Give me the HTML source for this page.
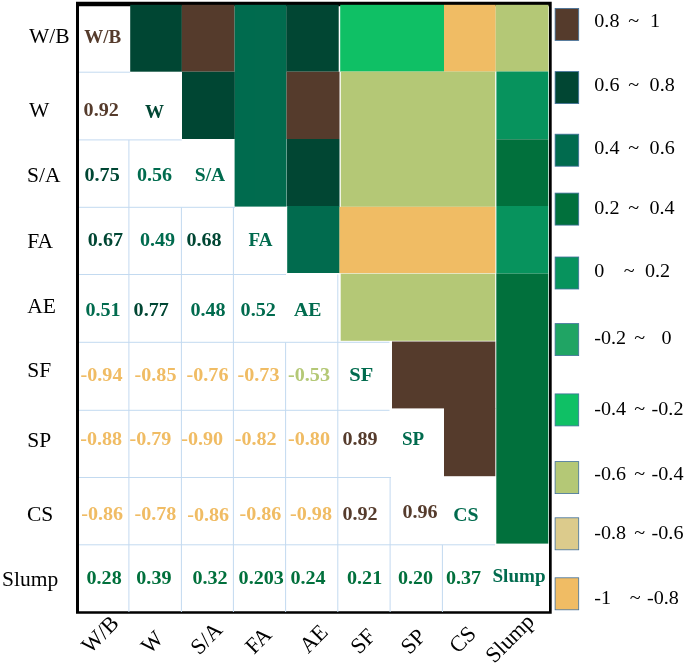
<!DOCTYPE html>
<html><head><meta charset="utf-8"><title>Correlation heatmap</title>
<style>
html,body{margin:0;padding:0;background:#fff;}
body{width:685px;height:665px;position:relative;overflow:hidden;font-family:"Liberation Serif",serif;}
svg text{font-family:"Liberation Serif",serif;}
svg text.r{font-weight:400;fill:#000;}
svg text.b{font-weight:700;}
</style></head><body>
<svg width="685" height="665" viewBox="0 0 685 665" style="position:absolute;left:0;top:0;will-change:transform;opacity:0.999">
<rect x="0" y="0" width="685" height="665" fill="#fff"/>
<path d="M76 1.8 H551.7 V613.8 H76 Z M79 6.2 V611.2 H549.0 V6.2 Z" fill="#000" fill-rule="evenodd"/>
<rect x="130.20" y="4.80" width="51.70" height="66.90" fill="#004633"/>
<rect x="181.80" y="4.80" width="52.80" height="66.90" fill="#553B2C"/>
<rect x="234.60" y="4.80" width="51.90" height="201.80" fill="#006B4E"/>
<rect x="286.30" y="4.80" width="52.40" height="66.90" fill="#004633"/>
<rect x="340.20" y="4.80" width="103.80" height="66.80" fill="#0FC065"/>
<rect x="444.00" y="4.80" width="51.70" height="66.80" fill="#F0BC64"/>
<rect x="495.70" y="4.80" width="52.80" height="66.70" fill="#B4C876"/>
<rect x="182.00" y="71.70" width="52.80" height="67.30" fill="#004633"/>
<rect x="286.50" y="71.70" width="53.00" height="67.30" fill="#553B2C"/>
<rect x="340.80" y="71.50" width="154.40" height="135.30" fill="#B4C876"/>
<rect x="496.40" y="71.50" width="51.90" height="67.80" fill="#07935D"/>
<rect x="286.80" y="139.00" width="52.70" height="67.00" fill="#004633"/>
<rect x="496.40" y="139.30" width="51.90" height="66.70" fill="#00703C"/>
<rect x="287.20" y="206.00" width="52.40" height="67.00" fill="#006B4E"/>
<rect x="339.50" y="206.80" width="155.90" height="66.40" fill="#F0BC64"/>
<rect x="496.40" y="206.00" width="51.90" height="67.60" fill="#07935D"/>
<rect x="340.70" y="273.70" width="154.50" height="67.10" fill="#B4C876"/>
<rect x="496.30" y="273.60" width="52.00" height="270.00" fill="#00703C"/>
<rect x="392.00" y="341.50" width="103.30" height="66.90" fill="#553B2C"/>
<rect x="444.00" y="408.00" width="51.30" height="68.20" fill="#553B2C"/>
<rect x="79" y="71.70" width="51" height="1" fill="#C3DAF0"/>
<rect x="79" y="139.40" width="102.80000000000001" height="1" fill="#C3DAF0"/>
<rect x="79" y="206.80" width="156" height="1" fill="#C3DAF0"/>
<rect x="79" y="274.00" width="207" height="1" fill="#C3DAF0"/>
<rect x="79" y="341.80" width="310.5" height="1" fill="#C3DAF0"/>
<rect x="79" y="409.80" width="310.5" height="1" fill="#C3DAF0"/>
<rect x="79" y="477.00" width="312" height="1" fill="#C3DAF0"/>
<rect x="79" y="544.30" width="416" height="1" fill="#C3DAF0"/>
<rect x="128.40" y="139.9" width="1" height="472.1" fill="#C3DAF0"/>
<rect x="180.90" y="207.3" width="1" height="404.7" fill="#C3DAF0"/>
<rect x="232.90" y="207.3" width="1" height="404.7" fill="#C3DAF0"/>
<rect x="285.10" y="342.3" width="1" height="269.7" fill="#C3DAF0"/>
<rect x="337.30" y="274.5" width="1" height="337.5" fill="#C3DAF0"/>
<rect x="389.60" y="477.5" width="1" height="134.5" fill="#C3DAF0"/>
<rect x="441.90" y="544.8" width="1" height="67.20000000000005" fill="#C3DAF0"/>
<rect x="555.1" y="8.4" width="23.6" height="32" fill="#553B2C" stroke="#41719C" stroke-width="0.8"/>
<rect x="555.1" y="71.6" width="23.6" height="32" fill="#004633" stroke="#41719C" stroke-width="0.8"/>
<rect x="555.1" y="134.2" width="23.6" height="32" fill="#006B4E" stroke="#41719C" stroke-width="0.8"/>
<rect x="555.1" y="193.1" width="23.6" height="32" fill="#00703C" stroke="#41719C" stroke-width="0.8"/>
<rect x="555.1" y="257" width="23.6" height="32" fill="#07935D" stroke="#41719C" stroke-width="0.8"/>
<rect x="555.1" y="323.6" width="23.6" height="32" fill="#20A464" stroke="#41719C" stroke-width="0.8"/>
<rect x="555.1" y="393.9" width="23.6" height="32" fill="#0FC065" stroke="#41719C" stroke-width="0.8"/>
<rect x="555.1" y="461.6" width="23.6" height="32" fill="#B4C876" stroke="#41719C" stroke-width="0.8"/>
<rect x="555.1" y="517.8" width="23.6" height="32" fill="#DCCB8C" stroke="#41719C" stroke-width="0.8"/>
<rect x="555.1" y="577.8" width="23.6" height="32" fill="#F0BC64" stroke="#41719C" stroke-width="0.8"/>
<text transform="translate(594.3 27.1) scale(1.06 1)" font-size="19" class="r">0.8</text>
<text transform="translate(628.3 27.1) scale(1.06 1)" font-size="19" class="r">~</text>
<text transform="translate(650.0 27.1) scale(1.06 1)" font-size="19" class="r">1</text>
<text transform="translate(594.3 91.0) scale(1.06 1)" font-size="19" class="r">0.6</text>
<text transform="translate(628.3 91.0) scale(1.06 1)" font-size="19" class="r">~</text>
<text transform="translate(649.6 91.0) scale(1.06 1)" font-size="19" class="r">0.8</text>
<text transform="translate(594.3 154.0) scale(1.06 1)" font-size="19" class="r">0.4</text>
<text transform="translate(628.3 154.0) scale(1.06 1)" font-size="19" class="r">~</text>
<text transform="translate(649.6 154.0) scale(1.06 1)" font-size="19" class="r">0.6</text>
<text transform="translate(594.3 214.4) scale(1.06 1)" font-size="19" class="r">0.2</text>
<text transform="translate(628.3 214.4) scale(1.06 1)" font-size="19" class="r">~</text>
<text transform="translate(649.4 214.4) scale(1.06 1)" font-size="19" class="r">0.4</text>
<text transform="translate(594.3 277.4) scale(1.06 1)" font-size="19" class="r">0</text>
<text transform="translate(623.7 277.4) scale(1.06 1)" font-size="19" class="r">~</text>
<text transform="translate(645.0 277.4) scale(1.06 1)" font-size="19" class="r">0.2</text>
<text transform="translate(594.3 344.0) scale(1.06 1)" font-size="19" class="r">-0.2</text>
<text transform="translate(634.2 344.0) scale(1.06 1)" font-size="19" class="r">~</text>
<text transform="translate(661.6 344.0) scale(1.06 1)" font-size="19" class="r">0</text>
<text transform="translate(594.3 414.8) scale(1.06 1)" font-size="19" class="r">-0.4</text>
<text transform="translate(634.2 414.8) scale(1.06 1)" font-size="19" class="r">~</text>
<text transform="translate(651.6 414.8) scale(1.06 1)" font-size="19" class="r">-0.2</text>
<text transform="translate(594.3 480.1) scale(1.06 1)" font-size="19" class="r">-0.6</text>
<text transform="translate(634.2 480.1) scale(1.06 1)" font-size="19" class="r">~</text>
<text transform="translate(651.6 480.1) scale(1.06 1)" font-size="19" class="r">-0.4</text>
<text transform="translate(594.3 538.7) scale(1.06 1)" font-size="19" class="r">-0.8</text>
<text transform="translate(634.2 538.7) scale(1.06 1)" font-size="19" class="r">~</text>
<text transform="translate(651.6 538.7) scale(1.06 1)" font-size="19" class="r">-0.6</text>
<text transform="translate(594.3 604.0) scale(1.06 1)" font-size="19" class="r">-1</text>
<text transform="translate(629.8 604.0) scale(1.06 1)" font-size="19" class="r">~</text>
<text transform="translate(647.0 604.0) scale(1.06 1)" font-size="19" class="r">-0.8</text>
<text x="29.0" y="43.2" font-size="21.5" class="r">W/B</text>
<text x="29.0" y="117.1" font-size="21.5" class="r">W</text>
<text x="27.0" y="181.6" font-size="21.5" class="r">S/A</text>
<text x="27.2" y="247.5" font-size="21.5" class="r">FA</text>
<text x="27.2" y="312.5" font-size="21.5" class="r">AE</text>
<text x="27.2" y="377" font-size="21.5" class="r">SF</text>
<text x="27.2" y="447" font-size="21.5" class="r">SP</text>
<text x="27.0" y="520.5" font-size="21.5" class="r">CS</text>
<text x="2.0" y="585.5" font-size="21.5" class="r">Slump</text>
<text x="90.25" y="654.35" font-size="22.3" class="r" transform="rotate(-45 90.25 654.35)">W/B</text>
<text x="149.75" y="654.80" font-size="22.3" class="r" transform="rotate(-45 149.75 654.80)">W</text>
<text x="199.2" y="655.70" font-size="22.3" class="r" transform="rotate(-45 199.2 655.70)">S/A</text>
<text x="253.95" y="655.10" font-size="22.3" class="r" transform="rotate(-45 253.95 655.10)">FA</text>
<text x="308.15" y="654.35" font-size="22.3" class="r" transform="rotate(-45 308.15 654.35)">AE</text>
<text x="359.25" y="655.00" font-size="22.3" class="r" transform="rotate(-45 359.25 655.00)">SF</text>
<text x="409.6" y="655.20" font-size="22.3" class="r" transform="rotate(-45 409.6 655.20)">SP</text>
<text x="458.0" y="654.30" font-size="22.3" class="r" transform="rotate(-45 458.0 654.30)">CS</text>
<text x="494.3" y="664.00" font-size="22.3" class="r" transform="rotate(-45 494.3 664.00)">Slump</text>
<text transform="translate(102.8 43.0) scale(1 1)" font-size="19" class="b" text-anchor="middle" fill="#553B2C">W/B</text>
<text transform="translate(101.2 115.8) scale(1.06 1)" font-size="19" class="b" text-anchor="middle" fill="#553B2C">0.92</text>
<text transform="translate(154.4 117.5) scale(1 1)" font-size="19" class="b" text-anchor="middle" fill="#004633">W</text>
<text transform="translate(102.1 180.5) scale(1.06 1)" font-size="19" class="b" text-anchor="middle" fill="#004633">0.75</text>
<text transform="translate(154.5 180.5) scale(1.06 1)" font-size="19" class="b" text-anchor="middle" fill="#006B4E">0.56</text>
<text transform="translate(210 180.5) scale(1.03 1)" font-size="19" class="b" text-anchor="middle" fill="#006B4E">S/A</text>
<text transform="translate(105.4 245.8) scale(1.06 1)" font-size="19" class="b" text-anchor="middle" fill="#004633">0.67</text>
<text transform="translate(157.5 245.8) scale(1.06 1)" font-size="19" class="b" text-anchor="middle" fill="#006B4E">0.49</text>
<text transform="translate(204 245.8) scale(1.06 1)" font-size="19" class="b" text-anchor="middle" fill="#004633">0.68</text>
<text transform="translate(260.5 245.8) scale(1 1)" font-size="19" class="b" text-anchor="middle" fill="#006B4E">FA</text>
<text transform="translate(103 316) scale(1.06 1)" font-size="19" class="b" text-anchor="middle" fill="#006B4E">0.51</text>
<text transform="translate(151.2 316) scale(1.06 1)" font-size="19" class="b" text-anchor="middle" fill="#004633">0.77</text>
<text transform="translate(208 316) scale(1.06 1)" font-size="19" class="b" text-anchor="middle" fill="#006B4E">0.48</text>
<text transform="translate(258.2 316) scale(1.06 1)" font-size="19" class="b" text-anchor="middle" fill="#006B4E">0.52</text>
<text transform="translate(307.8 316) scale(1.04 1)" font-size="19" class="b" text-anchor="middle" fill="#006B4E">AE</text>
<text transform="translate(101.5 381) scale(1.06 1)" font-size="19" class="b" text-anchor="middle" fill="#F0BC64">-0.94</text>
<text transform="translate(155.5 381) scale(1.06 1)" font-size="19" class="b" text-anchor="middle" fill="#F0BC64">-0.85</text>
<text transform="translate(207.5 381) scale(1.06 1)" font-size="19" class="b" text-anchor="middle" fill="#F0BC64">-0.76</text>
<text transform="translate(258.5 381) scale(1.06 1)" font-size="19" class="b" text-anchor="middle" fill="#F0BC64">-0.73</text>
<text transform="translate(309 381) scale(1.06 1)" font-size="19" class="b" text-anchor="middle" fill="#B4C876">-0.53</text>
<text transform="translate(361.3 381) scale(1.08 1)" font-size="19" class="b" text-anchor="middle" fill="#006B4E">SF</text>
<text transform="translate(101.2 444.7) scale(1.06 1)" font-size="19" class="b" text-anchor="middle" fill="#F0BC64">-0.88</text>
<text transform="translate(150.4 444.7) scale(1.06 1)" font-size="19" class="b" text-anchor="middle" fill="#F0BC64">-0.79</text>
<text transform="translate(202.2 444.7) scale(1.06 1)" font-size="19" class="b" text-anchor="middle" fill="#F0BC64">-0.90</text>
<text transform="translate(255.7 444.7) scale(1.06 1)" font-size="19" class="b" text-anchor="middle" fill="#F0BC64">-0.82</text>
<text transform="translate(309 444.7) scale(1.06 1)" font-size="19" class="b" text-anchor="middle" fill="#F0BC64">-0.80</text>
<text transform="translate(360 444.7) scale(1.06 1)" font-size="19" class="b" text-anchor="middle" fill="#553B2C">0.89</text>
<text transform="translate(413 444.7) scale(1 1)" font-size="19" class="b" text-anchor="middle" fill="#006B4E">SP</text>
<text transform="translate(102.2 519.7) scale(1.06 1)" font-size="19" class="b" text-anchor="middle" fill="#F0BC64">-0.86</text>
<text transform="translate(155.4 519.7) scale(1.06 1)" font-size="19" class="b" text-anchor="middle" fill="#F0BC64">-0.78</text>
<text transform="translate(208.2 521.4) scale(1.06 1)" font-size="19" class="b" text-anchor="middle" fill="#F0BC64">-0.86</text>
<text transform="translate(260.4 519.7) scale(1.06 1)" font-size="19" class="b" text-anchor="middle" fill="#F0BC64">-0.86</text>
<text transform="translate(311 519.7) scale(1.06 1)" font-size="19" class="b" text-anchor="middle" fill="#F0BC64">-0.98</text>
<text transform="translate(360 519.7) scale(1.06 1)" font-size="19" class="b" text-anchor="middle" fill="#553B2C">0.92</text>
<text transform="translate(420 517.5) scale(1.06 1)" font-size="19" class="b" text-anchor="middle" fill="#553B2C">0.96</text>
<text transform="translate(465.8 520.5) scale(1.04 1)" font-size="19" class="b" text-anchor="middle" fill="#006B4E">CS</text>
<text transform="translate(104.1 583.6) scale(1.06 1)" font-size="19" class="b" text-anchor="middle" fill="#00703C">0.28</text>
<text transform="translate(153.9 583.6) scale(1.06 1)" font-size="19" class="b" text-anchor="middle" fill="#00703C">0.39</text>
<text transform="translate(210 583.6) scale(1.06 1)" font-size="19" class="b" text-anchor="middle" fill="#00703C">0.32</text>
<text transform="translate(261.2 583.6) scale(1.06 1)" font-size="19" class="b" text-anchor="middle" fill="#00703C">0.203</text>
<text transform="translate(308 583.6) scale(1.06 1)" font-size="19" class="b" text-anchor="middle" fill="#00703C">0.24</text>
<text transform="translate(364.6 583.6) scale(1.06 1)" font-size="19" class="b" text-anchor="middle" fill="#00703C">0.21</text>
<text transform="translate(415.5 583.6) scale(1.06 1)" font-size="19" class="b" text-anchor="middle" fill="#00703C">0.20</text>
<text transform="translate(463.5 583.6) scale(1.06 1)" font-size="19" class="b" text-anchor="middle" fill="#00703C">0.37</text>
<text transform="translate(519.0 582.4) scale(0.97 1)" font-size="19.7" class="b" text-anchor="middle" fill="#006B4E">Slump</text>
</svg>
</body></html>
